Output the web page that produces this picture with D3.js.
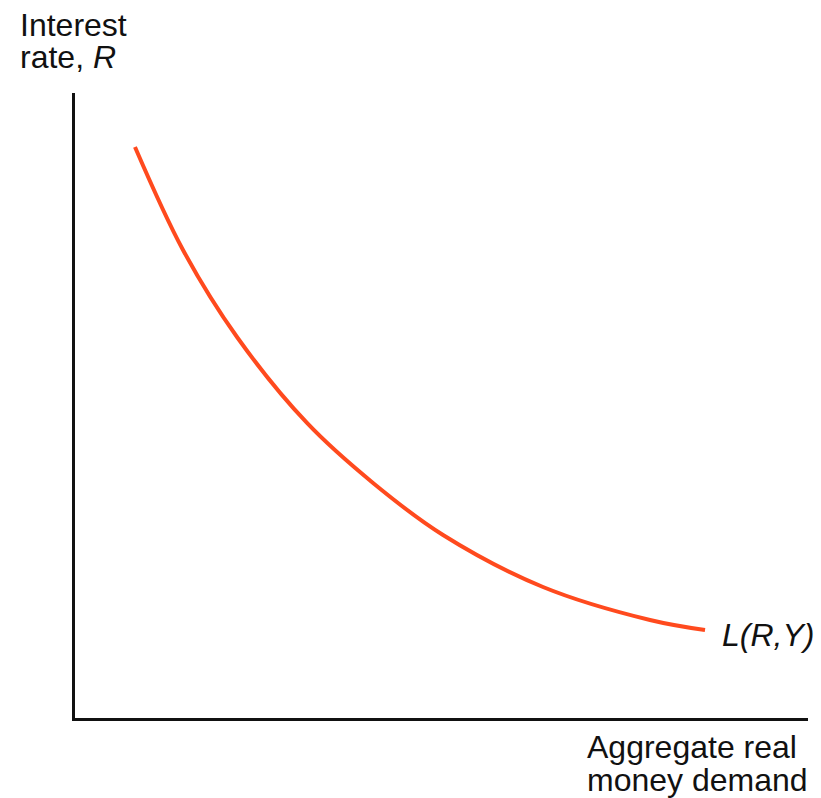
<!DOCTYPE html>
<html>
<head>
<meta charset="utf-8">
<script src="https://cdn.jsdelivr.net/npm/d3@7"></script>
<style>
  html, body { margin: 0; padding: 0; background: #fff; }
  svg { display: block; }
  text { font-family: "Liberation Sans", Arial, Helvetica, sans-serif; fill: #111; }
</style>
</head>
<body>
<svg id="chart" width="821" height="798"></svg>
<script>
// Data (abstract units, 0-100 on each axis)
const demandX = [8.37, 14.91, 22.26, 31.79, 40.78, 50.31, 63.92, 78.49, 85.98];
const demandY = [91.38, 74.94, 61.05, 47.33, 37.75, 29.45, 21.15, 15.88, 14.28];
const curveLabel = "L(R,Y)";
const yAxisLabel = ["Interest", "rate, "];
const yAxisLabelItalic = "R";
const xAxisLabel = ["Aggregate real", "money demand"];

const svg = d3.select("#chart");
const x = d3.scaleLinear().domain([0, 100]).range([73.5, 808]);
const y = d3.scaleLinear().domain([0, 100]).range([719.5, 93]);

// Axes (plain lines, no ticks)
svg.append("line")
  .attr("x1", x(0)).attr("x2", x(0))
  .attr("y1", y(100)).attr("y2", y(0) + 1.5)
  .attr("stroke", "#111").attr("stroke-width", 3);
svg.append("line")
  .attr("x1", x(0) - 1.5).attr("x2", x(100))
  .attr("y1", y(0)).attr("y2", y(0))
  .attr("stroke", "#111").attr("stroke-width", 3);

// Curve
const pts = demandX.map((d, i) => [d, demandY[i]]);
const line = d3.line()
  .x(d => x(d[0])).y(d => y(d[1]))
  .curve(d3.curveCatmullRom.alpha(0.5));
svg.append("path")
  .attr("d", line(pts))
  .attr("fill", "none")
  .attr("stroke", "#FF4A1E")
  .attr("stroke-width", 4)
  .attr("stroke-linecap", "butt");

// Curve label
svg.append("text")
  .attr("x", 722).attr("y", 646)
  .attr("font-size", 32).attr("font-style", "italic")
  .text(curveLabel);

// Y axis label
const yl = svg.append("text").attr("font-size", 32);
yl.append("tspan").attr("x", 20).attr("y", 36).text(yAxisLabel[0]);
yl.append("tspan").attr("x", 20).attr("y", 68).text(yAxisLabel[1])
  .append("tspan").attr("font-style", "italic").text(yAxisLabelItalic);

// X axis label
const xl = svg.append("text").attr("font-size", 32);
xl.append("tspan").attr("x", 587).attr("y", 758).text(xAxisLabel[0]);
xl.append("tspan").attr("x", 587).attr("y", 791).text(xAxisLabel[1]);
</script>
</body>
</html>
